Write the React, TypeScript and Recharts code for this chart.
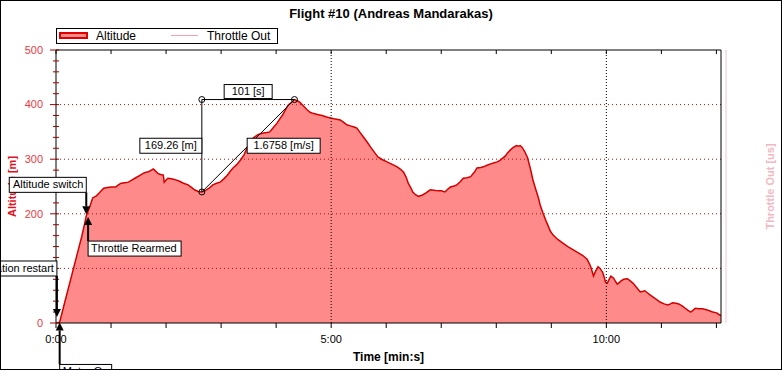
import React from 'react';
import { ComposedChart, Area, Line, XAxis, YAxis, ReferenceLine, ReferenceDot } from 'recharts';

// flight log, time in seconds
const times = [
  0, 2, 4, 8, 12, 16, 20, 24, 28, 31, 33, 35, 37, 40, 44, 47, 52, 56, 60, 65,
  68, 71, 75, 79, 83, 87, 91, 95, 98, 101, 104, 106, 108, 111, 114, 117, 118, 120, 122, 126,
  129, 134, 139, 144, 148, 151, 155, 159, 163, 167, 171, 175, 179, 183, 187, 190, 193, 197, 201, 205,
  208, 212, 215, 220, 226, 230, 233, 237, 241, 244, 247, 250, 253, 256, 258, 260, 263, 266, 270, 274,
  277, 280, 285, 290, 296, 303, 310, 314, 317, 321, 325, 328, 331, 335, 339, 343, 347, 351, 356, 361,
  366, 372, 376, 379, 382, 384, 387, 389, 392, 395, 399, 403, 408, 412, 416, 420, 424, 427, 430, 434,
  437, 441, 444, 448, 452, 456, 459, 463, 466, 470, 473, 477, 481, 484, 487, 490, 492, 496, 499, 502,
  504, 506, 508, 511, 514, 517, 520, 523, 526, 528, 531, 534, 537, 539, 542, 547, 553, 558, 564, 569,
  574, 579, 581, 583, 586, 588, 591, 593, 596, 598, 599, 601, 603, 605, 608, 610, 612, 614, 616, 619,
  623, 626, 629, 633, 637, 640, 642, 645, 648, 653, 659, 663, 667, 670, 672, 676, 679, 683, 686, 689,
  692, 695, 697, 701, 705, 710, 713, 716, 719, 721, 723, 725,
];
const altitude = [
  0, 0, 2, 28, 54, 80, 106, 132, 158, 180, 196, 205, 214, 229, 233, 238, 247, 248, 249, 249,
  253, 256, 257, 258, 262, 266, 270, 274, 276, 277, 280, 282, 279, 274, 272, 271, 258, 262, 265, 264,
  263, 260, 256, 253, 248, 244, 241, 240, 243, 247, 253, 256, 258, 264, 271, 278, 284, 290, 298, 308,
  320, 330, 339, 345, 348, 349, 350, 358, 366, 374, 381, 390, 399, 403, 406, 409.26, 407, 404, 397, 390,
  386, 384, 382, 380, 377, 374, 372, 367, 363, 361, 359, 357, 350, 341, 332, 322, 313, 304, 299, 295,
  291, 286, 281, 276, 266, 256, 247, 240, 235, 232, 234, 238, 244, 243, 242, 242, 240, 245, 249, 251,
  253, 259, 265, 266, 268, 276, 284, 285, 286, 289, 291, 293, 295, 298, 302, 306, 311, 318, 322, 325,
  324, 325, 322, 314, 303, 284, 262, 245, 229, 215, 201, 188, 176, 168, 161, 153, 146, 140, 134, 129,
  124, 117, 110, 103, 86, 94, 103, 100, 93, 82, 75, 73, 80, 86, 82, 76, 71, 74, 77, 80,
  81, 77, 73, 65, 57, 58, 59, 55, 51, 45, 38, 35, 33, 35, 37, 36, 35, 31, 27, 23,
  20, 24, 27, 26, 26, 24, 22, 20, 19, 18, 15, 14,
];

const altTicks = [0, 100, 200, 300, 400, 500];
const throttleTicks = [0, 100, 200, 300, 400, 500];
const timeLabelTicks = [0, 300, 600];
const legendNames = ['Altitude', 'Throttle Out'];

const eventNames = ['Configuration restart', 'Motor On', 'Altitude switch', 'Throttle Rearmed'];
const eventTimes = [1, 4, 33, 35];
const eventAltitudes = [11, 1, 199, 194];

const measureTimes = [159, 260];
const measureAltitudes = [240, 409.26];

const FONT = '"Liberation Sans", Arial, sans-serif';
const RED = '#d40000';
const FILL = '#ff8a8a';
const PINK = '#f5c3cb';
const TOP = 3000;

const minuteTicks = Array.from({ length: 13 }, (_, i) => i * 60);
const fineTicks = Array.from({ length: 26 }, (_, i) => i * 20);

const fmtTime = (s: number) => `${Math.floor(s / 60)}:${String(s % 60).padStart(2, '0')}`;

const BottomTick = (props: any) => {
  const { x, y, payload } = props;
  const v = payload.value;
  return (
    <g>
      <line x1={x} x2={x} y1={y} y2={y + 5} stroke="#000" />
      {timeLabelTicks.includes(v) && (
        <text x={x} y={y + 12} dy="0.71em" textAnchor="middle" fontSize={11} fill="#000" fontFamily={FONT}>
          {fmtTime(v)}
        </text>
      )}
    </g>
  );
};

const TopTick = (props: any) => {
  const { x, y } = props;
  return <line x1={x} x2={x} y1={y} y2={y + 4} stroke="#000" />;
};

const LeftTick = (props: any) => {
  const { x, y, payload } = props;
  const major = altTicks.includes(payload.value);
  return (
    <g>
      <line x1={major ? x - 6 : x - 3} x2={x + 3} y1={y} y2={y} stroke="#9b0000" />
      {major && (
        <text x={x - 13} y={y} dy="0.35em" textAnchor="end" fontSize={11} fill="#ee3a46" fontFamily={FONT}>
          {payload.value}
        </text>
      )}
    </g>
  );
};

const FrameTick = (props: any) => {
  const { x, y, payload } = props;
  const major = altTicks.includes(payload.value);
  return <line x1={x} x2={x - (major ? 5 : 3)} y1={y} y2={y} stroke="#000" />;
};

const PinkTick = (props: any) => {
  const { x, y, payload } = props;
  const major = throttleTicks.includes(payload.value);
  return (
    <g>
      <line x1={x} x2={x + (major ? 6 : 3)} y1={y} y2={y} stroke={PINK} />
      {major && (
        <text x={x + 12} y={y} dy="0.35em" textAnchor="start" fontSize={11} fill={PINK} fontFamily={FONT}>
          {payload.value}
        </text>
      )}
    </g>
  );
};

const axisTitle = (text: string, color: string, fromRight: boolean) => (p: any) => {
  const vb = p.viewBox || { x: 0, y: 0, width: 0, height: 0 };
  const x = fromRight ? vb.x + vb.width - 11 : vb.x + 11;
  const y = vb.y + vb.height / 2;
  return (
    <text
      x={x}
      y={y}
      transform={`rotate(-90 ${x} ${y})`}
      textAnchor="middle"
      dominantBaseline="central"
      fontSize={11}
      fontWeight="bold"
      fill={color}
      fontFamily={FONT}
    >
      {text}
    </text>
  );
};

const EventMarker = ({ cx, cy, text, dir, side, gap, w }: any) => {
  const h = 15;
  const down = dir === 'down';
  const base = down ? cy - 8 : cy + 8;
  const edge = down ? base - gap : base + gap;
  const boxY = down ? edge - h : edge;
  const boxX = side === 'left' ? cx - w : cx;
  return (
    <g>
      <line x1={cx} x2={cx} y1={base} y2={edge} stroke="#000" strokeWidth={2} />
      <polygon points={`${cx - 4},${base} ${cx + 4},${base} ${cx},${cy}`} fill="#000" />
      <rect x={boxX} y={boxY} width={w} height={h} fill="#fff" stroke="#000" />
      <text
        x={side === 'left' ? boxX + w - 3 : boxX + 3}
        y={boxY + h - 4}
        textAnchor={side === 'left' ? 'end' : 'start'}
        fontSize={11}
        fill="#000"
        fontFamily={FONT}
      >
        {text}
      </text>
    </g>
  );
};

const BoxLabel = ({ cx, cy, text, w, anchor }: any) => {
  const h = anchor === 'above' ? 14 : 15;
  let x = cx - w / 2;
  let y = cy - h - 1;
  if (anchor === 'left') { x = cx - w; y = cy - h / 2; }
  if (anchor === 'right') { x = cx - 1; y = cy - h / 2; }
  return (
    <g>
      <rect x={x} y={y} width={w} height={h} fill="#fff" stroke="#000" />
      <text x={x + w / 2} y={y + h - 4} textAnchor="middle" fontSize={11} fill="#000" fontFamily={FONT}>
        {text}
      </text>
    </g>
  );
};

// where each event's box goes relative to its marker
const eventLayout = [
  { dir: 'down', side: 'left', gap: 33, w: 104 },
  { dir: 'up', side: 'right', gap: 34, w: 52 },
  { dir: 'down', side: 'left', gap: 14, w: 77 },
  { dir: 'up', side: 'right', gap: 16, w: 93 },
];

export default function App() {
  const data = times.map((t, i) => ({ t, altitude: altitude[i] }));

  const [t0, t1] = measureTimes;
  const [a0, a1] = measureAltitudes;
  const dt = t1 - t0;
  const dAlt = a1 - a0;
  const tMid = (t0 + t1) / 2;
  const aMid = (a0 + a1) / 2;

  return (
    <div
      style={{
        position: 'absolute',
        left: 0,
        top: 0,
        width: 782,
        height: 370,
        boxSizing: 'border-box',
        border: '1px solid #000',
        background: '#fff',
        overflow: 'hidden',
        fontFamily: FONT,
      }}
    >
      <ComposedChart width={780} height={368} data={data} margin={{ top: 49, right: 0, bottom: 0, left: 0 }}>
        <XAxis
          dataKey="t"
          type="number"
          domain={[0, 725]}
          allowDataOverflow
          ticks={minuteTicks}
          interval={0}
          height={46}
          tickLine={false}
          tickSize={0}
          tickMargin={0}
          tick={BottomTick}
          axisLine={{ stroke: '#000' }}
          label={{ value: 'Time [min:s]', position: 'insideBottom', offset: 8, fill: '#000', fontWeight: 'bold', fontSize: 12 }}
        />
        <XAxis
          xAxisId="top"
          orientation="top"
          mirror
          dataKey="t"
          type="number"
          domain={[0, 725]}
          ticks={minuteTicks}
          interval={0}
          tickLine={false}
          tickSize={0}
          tickMargin={0}
          tick={TopTick}
          axisLine={{ stroke: '#000' }}
        />
        <YAxis
          domain={[0, 500]}
          allowDataOverflow
          ticks={fineTicks}
          interval={0}
          width={55}
          tickLine={false}
          tickSize={0}
          tickMargin={0}
          tick={LeftTick}
          axisLine={{ stroke: '#000' }}
          label={axisTitle('Altitude [m]', '#e3101e', false)}
        />
        <YAxis yAxisId="gap" orientation="right" width={5} domain={[0, 500]} tick={false} axisLine={false} tickLine={false} />
        <YAxis
          yAxisId="thr"
          orientation="right"
          width={55}
          domain={[0, 500]}
          ticks={fineTicks}
          interval={0}
          tickLine={false}
          tickSize={0}
          tickMargin={0}
          tick={PinkTick}
          axisLine={{ stroke: PINK }}
          label={axisTitle('Throttle Out  [us]', '#f2b8c2', true)}
        />
        <YAxis
          yAxisId="frame"
          orientation="right"
          mirror
          domain={[0, 500]}
          ticks={fineTicks}
          interval={0}
          tickLine={false}
          tickSize={0}
          tickMargin={0}
          tick={FrameTick}
          axisLine={{ stroke: '#000' }}
        />

        <Area
          type="linear"
          dataKey="altitude"
          stroke={RED}
          strokeWidth={1.5}
          fill={FILL}
          fillOpacity={1}
          dot={false}
          activeDot={false}
          isAnimationActive={false}
        />
        <Line yAxisId="thr" dataKey="throttle" stroke={PINK} dot={false} isAnimationActive={false} />

        {altTicks.filter((v) => v > 0 && v < 500).map((v) => (
          <ReferenceLine key={`h${v}`} y={v} stroke="#b01010" strokeDasharray="1 3" />
        ))}
        {timeLabelTicks.filter((v) => v > 0).map((v) => (
          <ReferenceLine key={`v${v}`} x={v} stroke="#000" strokeDasharray="1 2" />
        ))}

        <ReferenceLine segment={[{ x: t0, y: a1 }, { x: t1, y: a1 }]} stroke="#000" ifOverflow="visible" />
        <ReferenceLine segment={[{ x: t0, y: a1 }, { x: t0, y: a0 }]} stroke="#000" ifOverflow="visible" />
        <ReferenceLine segment={[{ x: t0, y: a0 }, { x: t1, y: a1 }]} stroke="#000" ifOverflow="visible" />
        <ReferenceDot x={t0} y={a1} r={3} fill="none" stroke="#000" ifOverflow="visible" />
        <ReferenceDot x={t1} y={a1} r={3} fill="none" stroke="#000" ifOverflow="visible" />
        <ReferenceDot x={t0} y={a0} r={3} fill="none" stroke="#000" ifOverflow="visible" />
        <ReferenceDot
          x={tMid}
          y={a1}
          ifOverflow="visible"
          zIndex={TOP}
          shape={(p: any) => <BoxLabel cx={p.cx} cy={p.cy} text={`${dt} [s]`} w={48} anchor="above" />}
        />
        <ReferenceDot
          x={t0}
          y={aMid}
          ifOverflow="visible"
          zIndex={TOP}
          shape={(p: any) => <BoxLabel cx={p.cx} cy={p.cy} text={`${dAlt.toFixed(2)} [m]`} w={62} anchor="left" />}
        />
        <ReferenceDot
          x={tMid}
          y={aMid}
          ifOverflow="visible"
          zIndex={TOP}
          shape={(p: any) => <BoxLabel cx={p.cx} cy={p.cy} text={`${(dAlt / dt).toFixed(4)} [m/s]`} w={73} anchor="right" />}
        />

        {eventNames.map((name, i) => (
          <ReferenceDot
            key={name}
            x={eventTimes[i]}
            y={eventAltitudes[i]}
            ifOverflow="visible"
            zIndex={TOP}
            shape={(p: any) => <EventMarker cx={p.cx} cy={p.cy} text={name} {...eventLayout[i]} />}
          />
        ))}
      </ComposedChart>

      <div
        style={{
          position: 'absolute',
          top: 5,
          left: 0,
          width: 780,
          textAlign: 'center',
          fontWeight: 'bold',
          fontSize: 13,
          color: '#000',
        }}
      >
        Flight #10 (Andreas Mandarakas)
      </div>

      <div
        style={{
          position: 'absolute',
          left: 55,
          top: 27,
          width: 222,
          height: 16,
          boxSizing: 'border-box',
          border: '1px solid #000',
          background: '#fff',
        }}
      >
        <svg width={220} height={14} style={{ display: 'block' }}>
          <rect x={3} y={4} width={27} height={5} fill={FILL} stroke="#e00000" strokeWidth={2} />
          <text x={39} y={11} fontSize={12} fill="#000" fontFamily={FONT}>{legendNames[0]}</text>
          <line x1={114} x2={141} y1={6.5} y2={6.5} stroke="#f4a0b0" />
          <text x={150} y={11} fontSize={12} fill="#000" fontFamily={FONT}>{legendNames[1]}</text>
        </svg>
      </div>
    </div>
  );
}
